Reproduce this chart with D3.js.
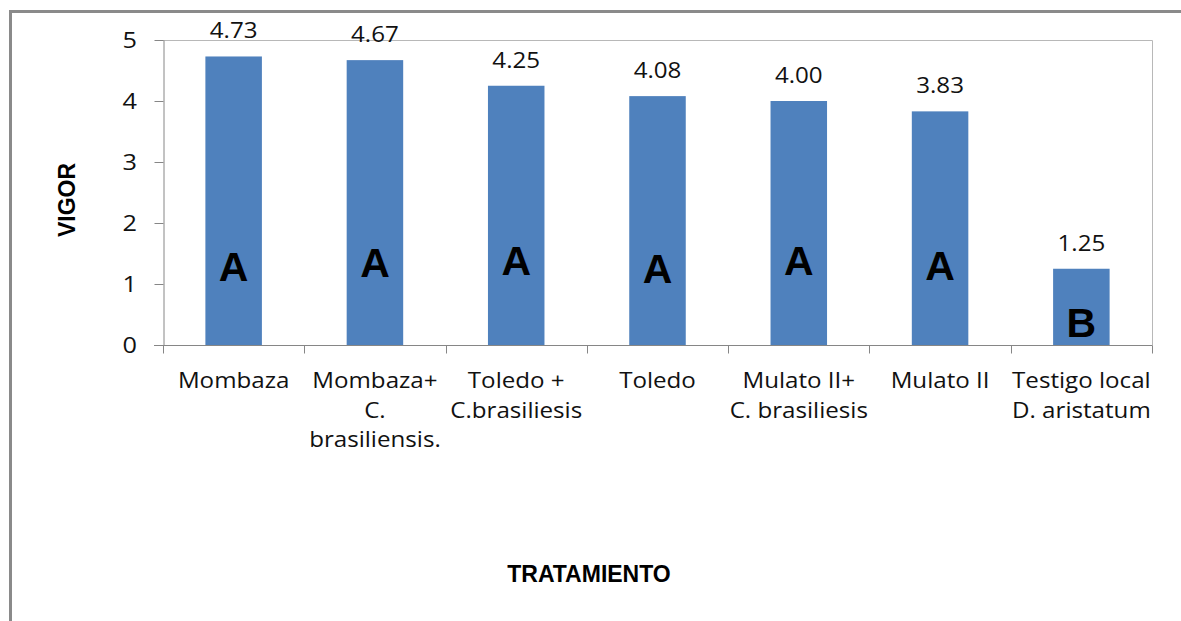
<!DOCTYPE html>
<html>
<head>
<meta charset="utf-8">
<script src="https://cdn.jsdelivr.net/npm/d3@7"></script>
<style>
  html, body { margin: 0; padding: 0; background: #ffffff; }
  svg { display: block; }
</style>
</head>
<body>
<svg id="chart" width="1181" height="621"></svg>
<script>
// Treatments (category labels, one array of lines per bar)
const tratamientos = [
  ["Mombaza"],
  ["Mombaza+", "C.", "brasiliensis."],
  ["Toledo +", "C.brasiliesis"],
  ["Toledo"],
  ["Mulato II+", "C. brasiliesis"],
  ["Mulato II"],
  ["Testigo local", "D. aristatum"]
];
// Mean vigor per treatment
const vigor = [4.73, 4.67, 4.25, 4.08, 4.00, 3.83, 1.25];
// Significance groups
const grupos = ["A", "A", "A", "A", "A", "A", "B"];
// Y axis ticks
const yTicks = [0, 1, 2, 3, 4, 5];

// Vertical placement of the group letters, in axis units
const letterLevel = [1.05, 1.11, 1.15, 1.02, 1.15, 1.07, 0.13];

const svg = d3.select("#chart");
const plot = { left: 163, right: 1152, top: 40, bottom: 345 };
const sx = 1.15; // horizontal stretch for the regular text

const x = d3.scaleBand()
  .domain(d3.range(vigor.length))
  .range([plot.left, plot.right])
  .paddingInner(0.6)
  .paddingOuter(0.3);

const xb = d3.scaleBand()
  .domain(d3.range(vigor.length))
  .range([plot.left, plot.right]);

const y = d3.scaleLinear().domain([0, 5]).range([plot.bottom, plot.top]);

function stretchedText(g, tx, ty, txt, opts) {
  return g.append("text")
    .attr("transform", `translate(${tx},${ty}) scale(${opts.sx || 1},1)`)
    .attr("text-anchor", opts.anchor || "middle")
    .attr("dominant-baseline", opts.baseline || "alphabetic")
    .attr("font-family", opts.family || "'Open Sans', sans-serif")
    .attr("font-size", opts.size)
    .attr("font-weight", opts.weight || "normal")
    .attr("fill", opts.fill || "#000")
    .text(txt);
}

// Outer chart frame
svg.append("rect")
  .attr("x", 10.5).attr("y", 11.5)
  .attr("width", 1300).attr("height", 700)
  .attr("fill", "none")
  .attr("stroke", "#8a8a8a")
  .attr("stroke-width", 3);

// Plot area border (top and right)
svg.append("path")
  .attr("d", `M${plot.left},${plot.top + 0.5}H${plot.right + 0.5}V${plot.bottom}`)
  .attr("fill", "none")
  .attr("stroke", "#b8b8b8")
  .attr("stroke-width", 1);

// Bars
svg.append("g").selectAll("rect")
  .data(vigor)
  .join("rect")
  .attr("x", (d, i) => x(i))
  .attr("width", x.bandwidth())
  .attr("y", d => y(d))
  .attr("height", d => y(0) - y(d))
  .attr("fill", "#4f81bd");

// Y axis
const yAxis = svg.append("g")
  .attr("transform", `translate(${plot.left + 0.5},0)`)
  .call(d3.axisLeft(y).tickValues(yTicks).tickSize(9).tickSizeOuter(0).tickFormat(""));
yAxis.selectAll("path, line").attr("stroke", "#868686");

yTicks.forEach(t => {
  stretchedText(svg, 137, y(t), d3.format("d")(t), {
    sx, size: 22, anchor: "end", baseline: "central", fill: "#111"
  });
});

// X axis with ticks at category boundaries
const bounds = d3.range(vigor.length + 1).map(i => i < vigor.length ? xb(i) : plot.right);
const xAxisG = svg.append("g").attr("transform", `translate(0,${plot.bottom + 0.5})`);
xAxisG.append("line")
  .attr("x1", plot.left - 9).attr("x2", plot.right + 0.5)
  .attr("stroke", "#868686");
xAxisG.selectAll("line.tick")
  .data(bounds)
  .join("line")
  .attr("class", "tick")
  .attr("x1", d => Math.round(d) + 0.5).attr("x2", d => Math.round(d) + 0.5)
  .attr("y1", 0).attr("y2", 8)
  .attr("stroke", "#868686");

// Category labels
tratamientos.forEach((lines, i) => {
  const cx = xb(i) + xb.bandwidth() / 2;
  lines.forEach((ln, j) => {
    stretchedText(svg, cx, 388 + j * 29.5, ln, { sx, size: 21, fill: "#111" });
  });
});

// Value labels above bars
vigor.forEach((v, i) => {
  stretchedText(svg, x(i) + x.bandwidth() / 2, y(v) - 18, d3.format(".2f")(v), {
    sx, size: 21, fill: "#111"
  });
});

// Group letters inside bars
grupos.forEach((g, i) => {
  stretchedText(svg, x(i) + x.bandwidth() / 2, y(letterLevel[i]), g, {
    size: 41, weight: "bold", family: "'Liberation Sans', Arial, sans-serif"
  });
});

// Axis titles
svg.append("text")
  .attr("transform", "translate(75,200) rotate(-90)")
  .attr("text-anchor", "middle")
  .attr("font-family", "'Liberation Sans', Arial, sans-serif")
  .attr("font-weight", "bold")
  .attr("font-size", 23)
  .text("VIGOR");

svg.append("text")
  .attr("x", 589).attr("y", 582)
  .attr("text-anchor", "middle")
  .attr("font-family", "'Liberation Sans', Arial, sans-serif")
  .attr("font-weight", "bold")
  .attr("font-size", 23)
  .text("TRATAMIENTO");
</script>
</body>
</html>
